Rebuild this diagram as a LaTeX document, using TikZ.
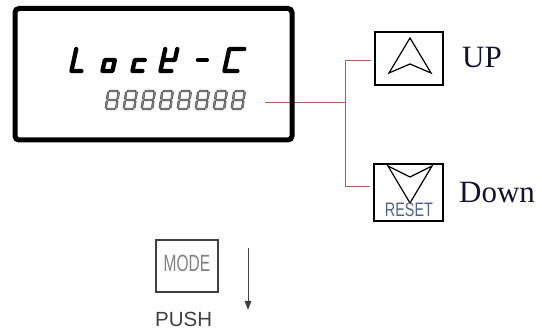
\documentclass[tikz,border=0pt]{standalone}
\usepackage{fontspec}
\setmainfont{Liberation Serif}
\newfontfamily\arialf{Liberation Sans}
\usetikzlibrary{arrows.meta}
\definecolor{leadred}{RGB}{176,92,92}
\definecolor{resetc}{RGB}{80,100,135}
\definecolor{labc}{RGB}{20,20,50}
\newcommand\hsegm[3]{\draw[eseg] (#1,#3)--(#1+0.9,#3+0.9)--(#2-0.9,#3+0.9)--(#2,#3)--(#2-0.9,#3-0.9)--(#1+0.9,#3-0.9)--cycle;}
\newcommand\vsegm[3]{\draw[eseg] (#1,#2)--(#1+0.9,#2+0.9)--(#1+0.9,#3-0.9)--(#1,#3)--(#1-0.9,#3-0.9)--(#1-0.9,#2+0.9)--cycle;}
\tikzset{
  bigseg/.style={line width=4.3pt, line cap=round, line join=round},
  eseg/.style={draw=black!75, line width=0.5pt, fill=black!45},
  keybox/.style={draw, line width=1.2pt, inner sep=0pt},
  redline/.style={draw=leadred, line width=0.9pt},
  arrowshape/.style={line width=1.2pt, line join=miter},
}
\begin{document}
\begin{tikzpicture}[x=1pt,y=1pt]
\useasboundingbox (0,0) rectangle (542,332);
% leader lines
\coordinate (lead) at (265,230);
\coordinate (jn) at (345,230);
\node[keybox, minimum width=68pt, minimum height=53pt] (upbox) at (409,273.5) {};
\node[keybox, minimum width=69pt, minimum height=57pt] (downbox) at (408.5,139.5) {};
\draw[redline] (lead) -- (jn);
\draw[redline] (jn) |- ([xshift=-3pt,yshift=-1.5pt]upbox.west);
\draw[redline] (jn) |- ([xshift=-3pt,yshift=6.5pt]downbox.west);
% display
\node[draw, line width=5pt, rounded corners=4pt, minimum width=277pt, minimum height=131.5pt, inner sep=0pt] (disp) at (153.5,257.75) {};
% big seven-segment text
\begin{scope}[shift={(69,259)}, xslant=0.22]
  \draw[bigseg] (2,24)--(2,2)--(12,2);
\end{scope}
\begin{scope}[shift={(100,259)}, xslant=0.22]
  \draw[bigseg] (2,13)--(12,13)--(12,2)--(2,2)--cycle;
\end{scope}
\begin{scope}[shift={(130,259)}, xslant=0.22]
  \draw[bigseg] (12,13)--(2,13)--(2,2)--(12,2);
\end{scope}
\begin{scope}[shift={(158,259)}, xslant=0.22]
  \draw[bigseg] (2,24)--(2,13)--(14,13)--(14,24);
  \draw[bigseg] (2,13)--(2,2)--(13,2);
\end{scope}
\begin{scope}[shift={(194,259)}, xslant=0.22]
  \draw[bigseg] (1,13)--(10,13);
\end{scope}
\begin{scope}[shift={(222,259)}, xslant=0.22]
  \draw[bigseg] (17,24)--(2,24)--(2,2)--(15,2);
\end{scope}
% small 8s
\foreach \i in {0,...,7}{
  \begin{scope}[shift={(105+18*\i,222)}, xslant=0.15]
    \hsegm{1.2}{10.3}{19}
    \vsegm{11}{10.6}{18.3}
    \vsegm{11}{1.7}{9.4}
    \hsegm{1.2}{10.3}{1}
    \vsegm{0.5}{1.7}{9.4}
    \vsegm{0.5}{10.6}{18.3}
    \hsegm{1.2}{10.3}{10}
  \end{scope}
}
% UP key symbol
\draw[arrowshape] (410,294) -- (431,259) -- (410,268) -- (389,259) -- cycle;
\node[anchor=base west, inner sep=0pt, text=labc, font=\fontsize{31}{31}\selectfont] (uplabel) at (462,264) {UP};
% Down key symbol
\draw[arrowshape] (388,166) -- (410,155) -- (432,166) -- (410,129) -- cycle;
\node[inner sep=0pt, text=resetc, font=\arialf\fontsize{19.5}{19.5}\selectfont, xscale=0.74] (reset) at (409,122) {RESET};
\node[anchor=base west, inner sep=0pt, text=labc, font=\fontsize{31}{31}\selectfont] (downlabel) at (459,129) {Down};
% MODE key
\node[keybox, draw=black!75, minimum width=62pt, minimum height=52pt] (modebox) at (187,66) {};
\node[inner sep=0pt, text=black!50, font=\arialf\fontsize{23.5}{23.5}\selectfont, xscale=0.66] (modetext) at (187,68.5) {MODE};
\coordinate (pushtop) at (248,84);
\coordinate (pushbot) at (248,22);
\draw[line width=1pt, draw=black!75, -{Triangle[length=9pt,width=6.5pt]}] (pushtop) -- (pushbot);
\node[anchor=base west, inner sep=0pt, text=black!75, font=\arialf\fontsize{20.5}{20.5}\selectfont] (push) at (155,5) {PUSH};
\end{tikzpicture}
\end{document}
